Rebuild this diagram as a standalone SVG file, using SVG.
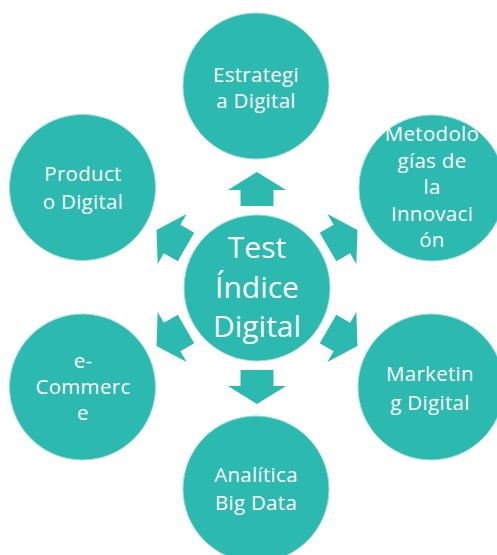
<svg xmlns="http://www.w3.org/2000/svg" width="497" height="555" viewBox="0 0 497 555">
<style>
.c{fill:#2cb9af;stroke:#9fdcd7;stroke-width:1}
.t{fill:#fff;font-family:"Open Sans","Noto Sans",sans-serif;font-size:20.5px;letter-spacing:0.3px;text-anchor:middle}
.big{font-size:30px;letter-spacing:0}
.a{fill:#2cb9af}
</style>
<defs>
<polygon id="arr" points="-16.5,-82 -16.5,-98 -29,-98 0,-116 29,-98 16.5,-98 16.5,-82"/>
</defs>
<g id="connectors" class="a" transform="translate(257,288)">
<use href="#arr"/>
<use href="#arr" transform="rotate(60)"/>
<use href="#arr" transform="rotate(120)"/>
<use href="#arr" transform="rotate(180)"/>
<use href="#arr" transform="rotate(240)"/>
<use href="#arr" transform="rotate(300)"/>
</g>
<g id="center">
<circle class="c" cx="257" cy="288" r="73"/>
<text class="t big" x="257" y="258">Test</text>
<text class="t big" x="257" y="298">Índice</text>
<text class="t big" x="257" y="337">Digital</text>
</g>
<g id="estrategia">
<circle class="c" cx="256" cy="86" r="73"/>
<text class="t" x="256" y="82">Estrategi</text>
<text class="t" x="256" y="108">a Digital</text>
</g>
<g id="metodologias">
<circle class="c" cx="432" cy="188" r="73"/>
<text class="t" x="432" y="141">Metodolo</text>
<text class="t" x="432" y="167.5">gías de</text>
<text class="t" x="432" y="194">la</text>
<text class="t" x="432" y="220.5">Innovaci</text>
<text class="t" x="432" y="247">ón</text>
</g>
<g id="marketing">
<circle class="c" cx="431" cy="387" r="73"/>
<text class="t" x="430" y="381">Marketin</text>
<text class="t" x="430" y="410">g Digital</text>
</g>
<g id="analitica">
<circle class="c" cx="256" cy="489" r="73"/>
<text class="t" x="256" y="482">Analítica</text>
<text class="t" x="256" y="510">Big Data</text>
</g>
<g id="ecommerce">
<circle class="c" cx="82.5" cy="387" r="73"/>
<text class="t" x="83" y="368">e-</text>
<text class="t" x="83" y="394">Commerc</text>
<text class="t" x="83" y="420">e</text>
</g>
<g id="producto">
<circle class="c" cx="82.5" cy="187.5" r="73"/>
<text class="t" x="83" y="181">Product</text>
<text class="t" x="83" y="209">o Digital</text>
</g>
</svg>
